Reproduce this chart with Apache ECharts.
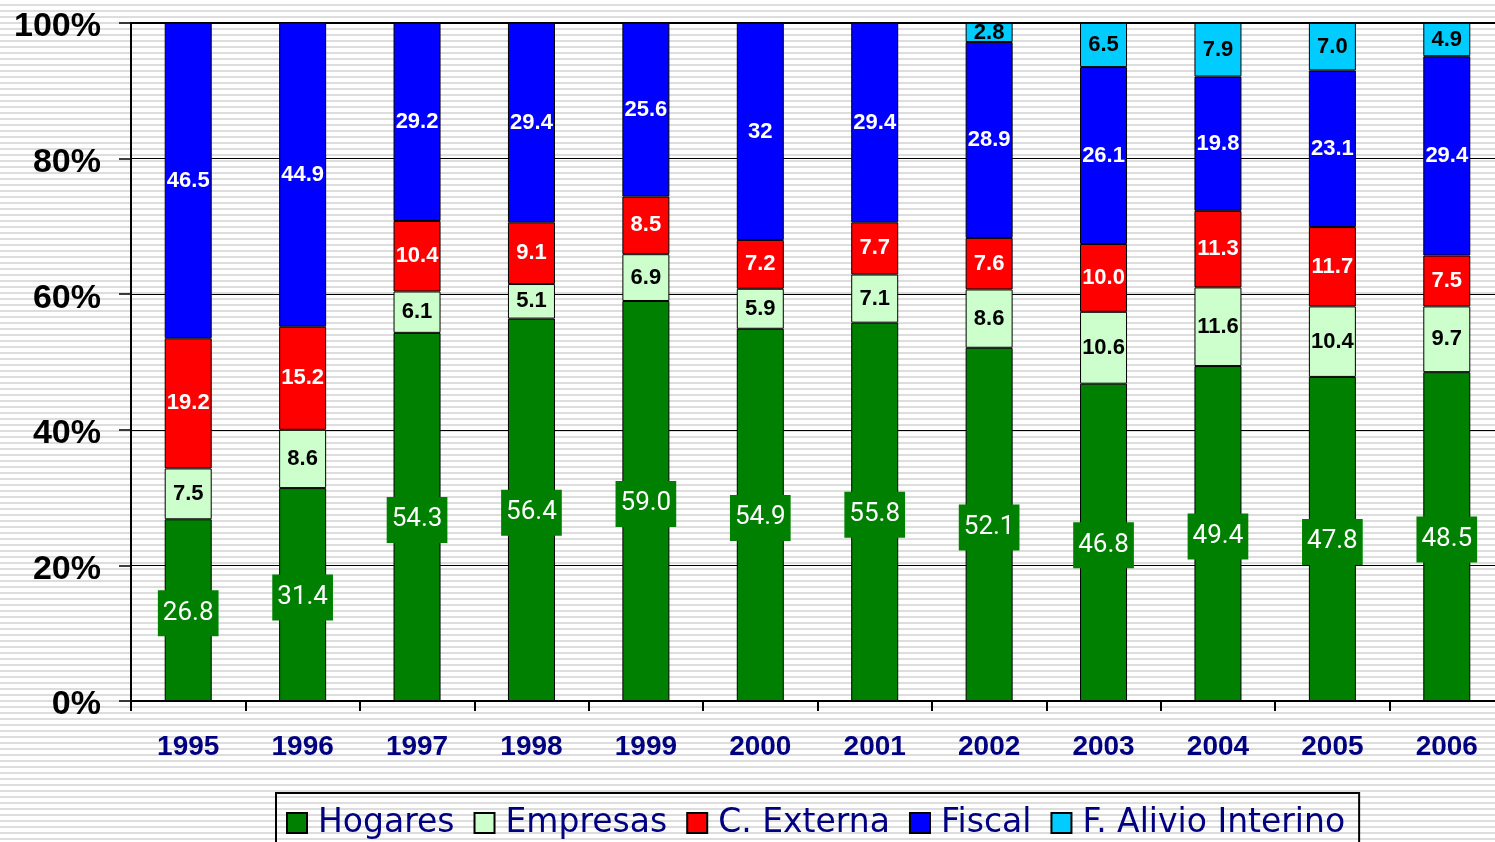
<!DOCTYPE html>
<html>
<head>
<meta charset="utf-8">
<script src="https://cdn.jsdelivr.net/npm/echarts@6/dist/echarts.min.js"></script>
<style>
html,body{margin:0;padding:0;}
body{width:1495px;height:842px;overflow:hidden;
background:repeating-linear-gradient(to bottom,#ffffff 0px,#ffffff 4px,#dddddd 4px,#dddddd 6px);}
#chart{width:1530px;height:842px;}
</style>
</head>
<body>
<div id="chart"></div>
<script>
const years = ['1995','1996','1997','1998','1999','2000','2001','2002','2003','2004','2005','2006'];
const hogares   = [26.8, 31.4, 54.3, 56.4, 59.0, 54.9, 55.8, 52.1, 46.8, 49.4, 47.8, 48.5];
const empresas  = [7.5, 8.6, 6.1, 5.1, 6.9, 5.9, 7.1, 8.6, 10.6, 11.6, 10.4, 9.7];
const cExterna  = [19.2, 15.2, 10.4, 9.1, 8.5, 7.2, 7.7, 7.6, 10.0, 11.3, 11.7, 7.5];
const fiscal    = [46.5, 44.9, 29.2, 29.4, 25.6, 32, 29.4, 28.9, 26.1, 19.8, 23.1, 29.4];
const alivio    = [null, null, null, null, null, null, null, 2.8, 6.5, 7.9, 7.0, 4.9];
const yTicks    = ['0%','20%','40%','60%','80%','100%'];

const chart = echarts.init(document.getElementById('chart'), null, {renderer:'canvas'});
const fix1 = p => (p.value == null ? '' : Number(p.value).toFixed(1));
const gen = p => (p.value == null ? '' : String(p.value));
const boldLbl = (color, fmt) => ({show:true, position:'inside', color:color, fontFamily:'Liberation Sans, Arial, sans-serif', fontWeight:'bold', fontSize:22, formatter:fmt});
const border = {borderColor:'#000', borderWidth:1};

chart.setOption({
  backgroundColor:'transparent',
  animation:false,
  grid:{left:131, top:23, bottom:141, width:1373, containLabel:false},
  legend:{
    left:276, top:793, orient:'horizontal',
    padding:[12,14,20,10],
    borderColor:'#000', borderWidth:2,
    itemWidth:20, itemHeight:20, itemGap:19,
    icon:'rect',
    textStyle:{color:'#000080', fontSize:33, fontFamily:'DejaVu Sans, sans-serif', padding:[0,0,0,6], lineHeight:36},
    data:['Hogares','Empresas','C. Externa','Fiscal','F. Alivio Interino']
  },
  xAxis:[{
    type:'category', data:years, boundaryGap:true,
    axisLine:{show:true, lineStyle:{color:'#000', width:2}},
    axisTick:{show:true, length:10, lineStyle:{color:'#000', width:2}},
    axisLabel:{color:'#000080', fontWeight:'bold', fontSize:28, fontFamily:'Liberation Sans, Arial, sans-serif', margin:32, interval:0},
    splitLine:{show:false}
  },{
    type:'category', data:years, position:'top',
    axisLine:{show:true, lineStyle:{color:'#000', width:2}},
    axisTick:{show:false}, axisLabel:{show:false}, splitLine:{show:false}
  }],
  yAxis:{
    type:'value', min:0, max:100, interval:20,
    axisLine:{show:true, lineStyle:{color:'#000', width:2}},
    axisTick:{show:true, length:12, lineStyle:{color:'#000', width:1.5}},
    axisLabel:{color:'#000', fontWeight:'bold', fontSize:34, fontFamily:'Liberation Sans, Arial, sans-serif', margin:30,
      formatter:(v)=>'{a|' + yTicks[Math.round(v/20)] + '}',
      rich:{a:{color:'#000', fontWeight:'bold', fontSize:34, fontFamily:'Liberation Sans, Arial, sans-serif', padding:[8,0,0,0]}}},
    splitLine:{show:true, lineStyle:{color:'#000', width:1.2}}
  },
  series:[
    {name:'Hogares', type:'bar', stack:'t', barWidth:47, data:hogares,
      itemStyle:Object.assign({color:'#008000'}, border),
      label:{show:true, position:'inside', offset:[0,3], color:'#fff', fontFamily:'Roboto, sans-serif', fontSize:26,
        backgroundColor:'#008000', padding:[10,5,10,5], formatter:fix1}},
    {name:'Empresas', type:'bar', stack:'t', barWidth:47, data:empresas,
      itemStyle:Object.assign({color:'#CCFFCC'}, border), label:boldLbl('#000', fix1)},
    {name:'C. Externa', type:'bar', stack:'t', barWidth:47, data:cExterna,
      itemStyle:Object.assign({color:'#FF0000'}, border), label:boldLbl('#fff', fix1)},
    {name:'Fiscal', type:'bar', stack:'t', barWidth:47, data:fiscal,
      itemStyle:Object.assign({color:'#0000FF'}, border), label:boldLbl('#fff', gen)},
    {name:'F. Alivio Interino', type:'bar', stack:'t', barWidth:47, data:alivio,
      itemStyle:Object.assign({color:'#00CCFF'}, border), label:boldLbl('#000', fix1)}
  ]
});
</script>
</body>
</html>
